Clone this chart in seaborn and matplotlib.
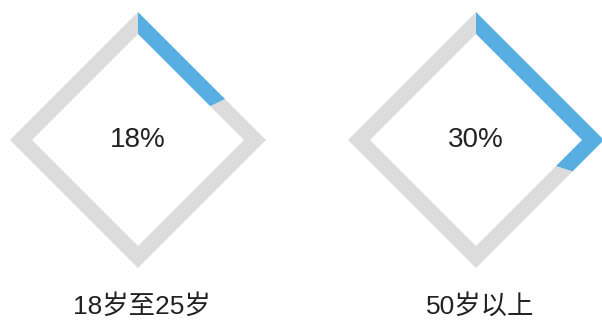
import matplotlib
matplotlib.use("Agg")
import numpy as np
import matplotlib.pyplot as plt
import seaborn as sns

categories = ["18岁至25岁", "50岁以上"]
values = [18, 30]
pct_labels = ["18%", "30%"]

sns.set_theme(style="white")
plt.rcParams["font.family"] = ["Liberation Sans", "Noto Sans CJK SC", "DejaVu Sans"]

W, H = 602, 323
fig = plt.figure(figsize=(W / 100, H / 100), dpi=100)
ax = fig.add_axes([0, 0, 1, 1])

blue = "#58aee0"
gray = "#dcdcdc"
text_color = "#222222"

centers_x = [138, 476]
cy = 183
R_out, R_in = 128, 106


def diamond_pt(cx, cy, r, theta):
    # theta in degrees, clockwise from top
    s, c = np.sin(np.radians(theta)), np.cos(np.radians(theta))
    t = r / (abs(s) + abs(c))
    return cx + t * s, cy + t * c


def ring_sector(cx, cy, ro, ri, a0, a1):
    angs = [a0] + [a for a in (90, 180, 270) if a0 < a < a1] + [a1]
    outer = [diamond_pt(cx, cy, ro, a) for a in angs]
    inner = [diamond_pt(cx, cy, ri, a) for a in angs[::-1]]
    pts = outer + inner
    return [p[0] for p in pts], [p[1] for p in pts]


for cx, v, lab, cat in zip(centers_x, values, pct_labels, categories):
    end = 360.0 * v / 100.0
    xs, ys = ring_sector(cx, cy, R_out, R_in, end, 360.0)
    ax.fill(xs, ys, color=gray, linewidth=0)
    xs, ys = ring_sector(cx, cy, R_out, R_in, 0.0, end)
    ax.fill(xs, ys, color=blue, linewidth=0)
    ax.text(cx, cy, lab, ha="center", va="center", fontsize=20, color=text_color)
    ax.text(cx + 4, 17, cat, ha="center", va="center", fontsize=19, color=text_color)

ax.set_xlim(0, W)
ax.set_ylim(0, H)
ax.set_aspect("equal")
ax.axis("off")
fig.savefig("out.png", dpi=100, facecolor="white")
